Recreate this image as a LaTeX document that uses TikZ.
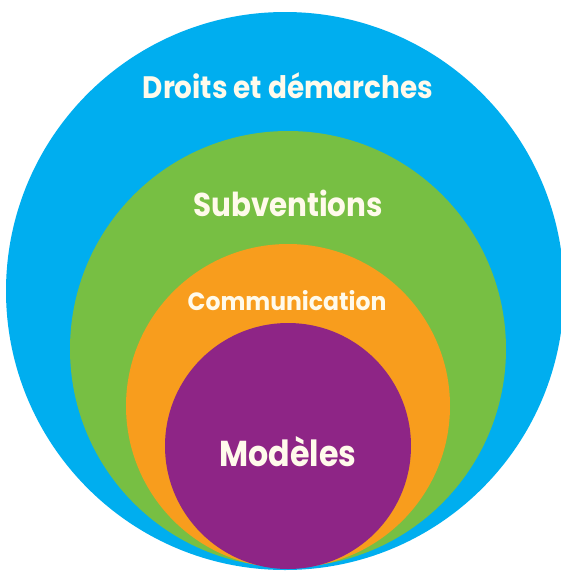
\documentclass[tikz,border=0pt]{standalone}
\usepackage{fontspec}
\setmainfont{Poppins}
\usepackage{xcolor}
\usepackage{tikz}
\definecolor{cblue}{HTML}{00AEEF}
\definecolor{cgreen}{HTML}{77BF43}
\definecolor{corange}{HTML}{F89D1D}
\definecolor{cpurple}{HTML}{8E2586}
\definecolor{cream}{HTML}{FFFAEB}
\tikzstyle{lbl}=[text=cream,inner sep=0pt,anchor=center]
\newcommand\lsize[1]{\fontsize{#1}{#1}\selectfont\bfseries}
\newcommand\squeeze[2]{\scalebox{#1}[1]{#2}}
\begin{document}
\begin{tikzpicture}[x=1pt,y=-1pt]
	\useasboundingbox (0,0) rectangle (561,571);
	\fill[cblue]   (285,291) circle (279);
	\fill[cgreen]  (288,349) circle (218);
	\fill[corange] (288,406) circle (162);
	\fill[cpurple] (288,446) circle (123);
	\node[lbl,font=\lsize{31}] (droits) at (288,86)  {\squeeze{0.9}{Droits et démarches}};
	\node[lbl,font=\lsize{33}] (subv)   at (288,203) {\squeeze{0.89}{Subventions}};
	\node[lbl,font=\lsize{25}] (comm)   at (287,301) {\squeeze{0.94}{Communication}};
	\node[lbl,font=\lsize{36}] (mod)    at (288,452) {\squeeze{0.88}{Modèles}};
\end{tikzpicture}
\end{document}
